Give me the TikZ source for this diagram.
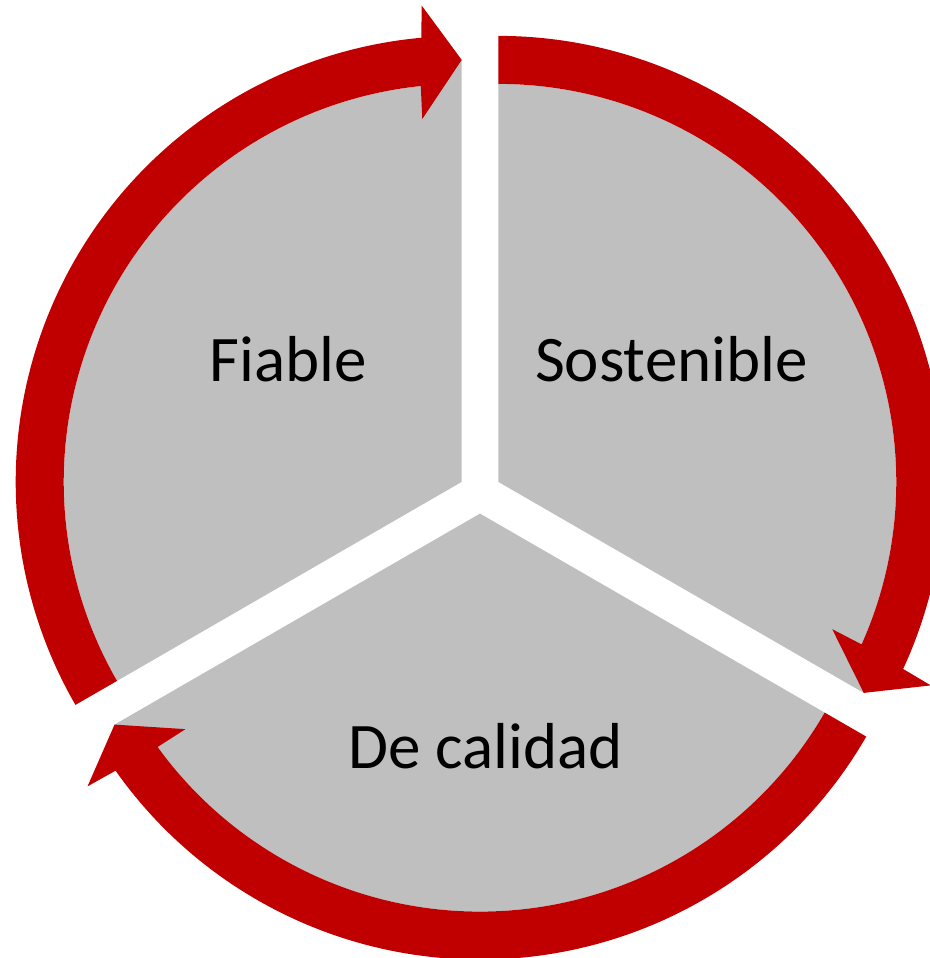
\documentclass[tikz,border=0pt]{standalone}
\usepackage{fontspec}
\setmainfont{Carlito}
\usepackage{tikz}
\usetikzlibrary{calc}
\definecolor{cyclered}{RGB}{192,0,0}
\definecolor{cyclegray}{RGB}{191,191,191}

\begin{document}
\begin{tikzpicture}[x=0.02cm,y=0.02cm,
    sector/.style={fill=cyclegray},
    band/.style={fill=cyclered},
    lbl/.style={anchor=base,font=\fontsize{37}{44}\selectfont}]
    \useasboundingbox (0,0) rectangle (930,958);
    % Centres of the three segments
    \coordinate (fiable) at (461.7,476.1);
    \coordinate (sost) at (498.3,476.1);
    \coordinate (calidad) at (480,444.4);
    % Segments and arrows (clockwise, from angle \a to angle \b)
    \foreach \c/\a/\b in {fiable/210/90,sost/90/-30,calidad/330/210} {
      \fill[sector] (\c) -- ($(\c)+(\b:422)$) -- ($(\c)+(\b+5.9:398)$)
        arc[start angle=\b+5.9,end angle=\a,radius=398] -- cycle;
      \fill[band] ($(\c)+(\a:446)$) arc[start angle=\a,end angle=\b+5.2,radius=446]
        -- ($(\c)+(\b+4.8:478)$) -- ($(\c)+(\b:422)$) -- ($(\c)+(\b+6.2:365)$)
        -- ($(\c)+(\b+5.9:398)$) arc[start angle=\b+5.9,end angle=\a,radius=398] -- cycle;
    }
    % Labels
    \node[lbl] (fiablelbl) at (288,576.3) {Fiable};
    \node[lbl] (sostlbl) at (671.5,576.3) {Sostenible};
    \node[lbl] (calidadlbl) at (485.5,189.7) {De calidad};
\end{tikzpicture}
\end{document}
